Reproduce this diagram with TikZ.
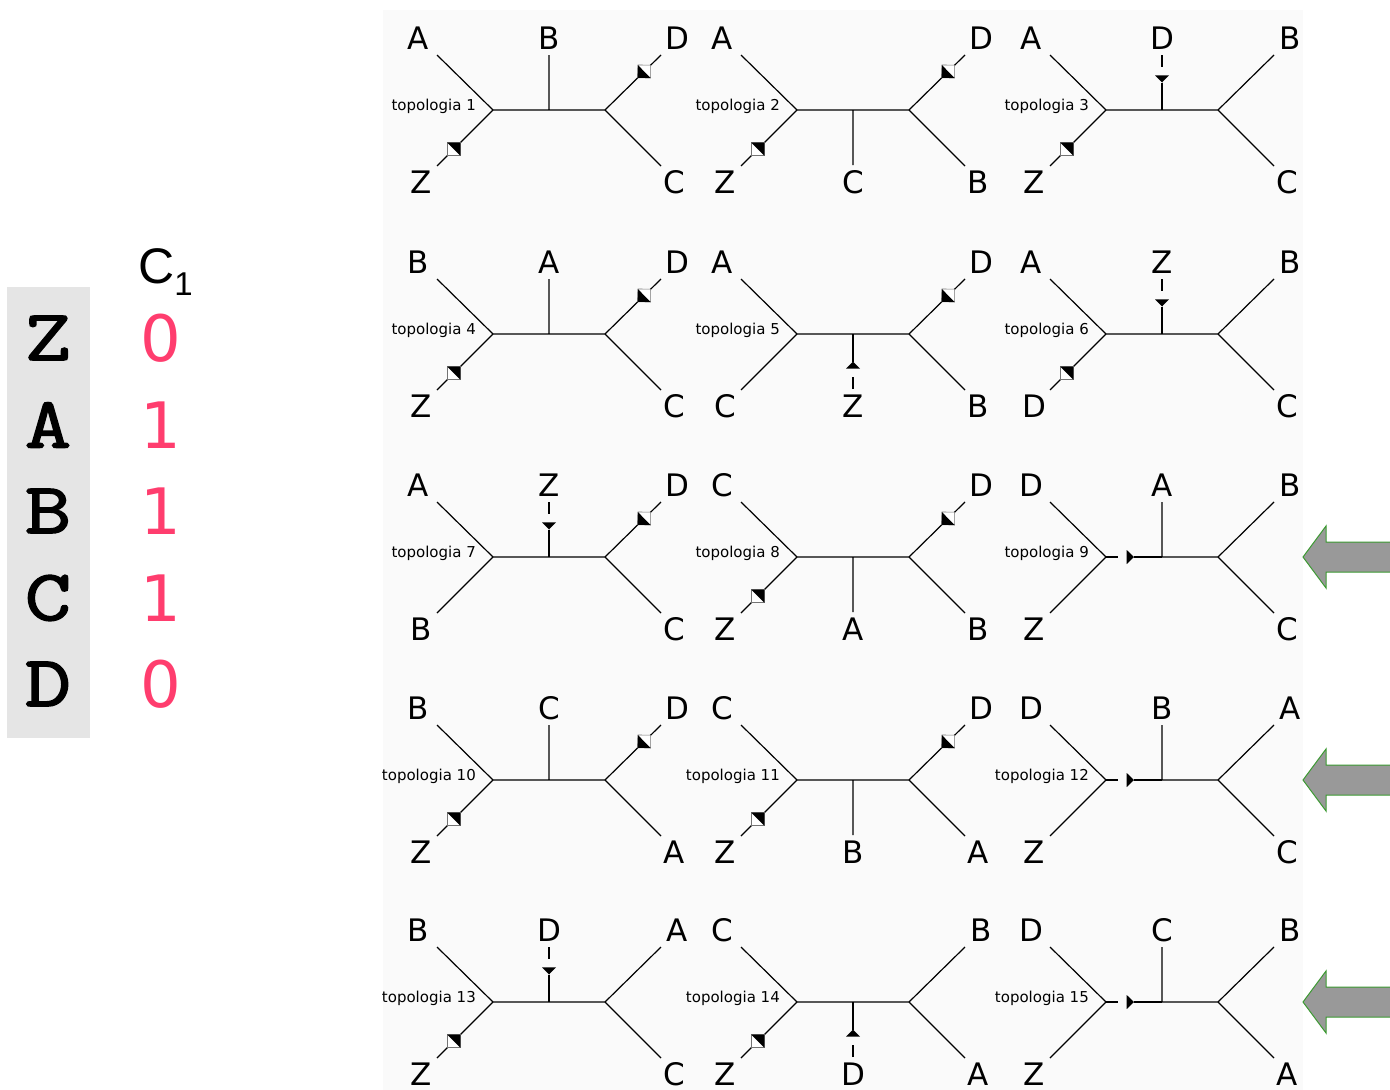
\documentclass[tikz,border=0pt]{standalone}
\usepackage{fontspec}
\setmainfont{DejaVu Sans}
\newfontfamily\tabfont{Latin Modern Mono}[FakeBold=2.2,FakeStretch=1.25]
\newfontfamily\hdfont{Liberation Sans}
\usetikzlibrary{calc}

\definecolor{digred}{HTML}{FF3D6E}
\definecolor{tabgray}{HTML}{E5E5E5}
\definecolor{treebg}{HTML}{FAFAFA}
\definecolor{arrgray}{HTML}{999999}
\definecolor{arrgreen}{HTML}{3C9A32}

% one unrooted topology: name, centre, number, leaves tl tr bl br, middle leaf, -1 up / 1 down
\newcommand{\topo}[9]{%
\begin{scope}[shift={(#2)}]
\coordinate (#1m) at (0,0);
\coordinate (#1l) at (-56,0);
\coordinate (#1r) at (56,0);
\coordinate (#1tl) at (-112,-55);
\coordinate (#1tr) at (112,-55);
\coordinate (#1bl) at (-112,56);
\coordinate (#1br) at (112,56);
\coordinate (#1e) at (0,#9*55);
\node[leaf] (#1tlx) at (-131,-72) {#4};
\node[leaf] (#1trx) at (128,-72) {#5};
\node[leaf] (#1blx) at (-128,72) {#6};
\node[leaf] (#1brx) at (125,72) {#7};
\node[leaf] (#1ex) at (0,#9*72) {#8};
\node[toplab] (#1n) at (-73,0) {topologia #3};
\end{scope}}

% broken branch, square mark (inner node, leaf end)
\newcommand{\brsq}[2]{%
\coordinate (sqa) at ($(#1)!0.584!(#2)$);
\coordinate (sqb) at ($(#1)!0.816!(#2)$);
\coordinate (sqc) at ($(#1)!0.7!(#2)$);
\filldraw[sqbox] (sqa) -- ($(sqc)!1!90:(sqa)$) -- (sqb) -- ($(sqc)!1!-90:(sqa)$) -- cycle;
\fill (sqa) -- ($(sqc)!1!90:(sqa)$) -- ($(sqc)!1!-90:(sqa)$) -- cycle;}

% broken branch, triangle mark (far end, near end)
\newcommand{\brtri}[2]{%
\draw[br] (#1) -- ($(#1)!0.22!(#2)$);
\coordinate (trb) at ($(#1)!0.37!(#2)$);
\fill ($(trb)!7pt!90:(#2)$) -- ($(#1)!0.5!(#2)$) -- ($(trb)!7pt!-90:(#2)$) -- cycle;
\draw[br] ($(#1)!0.5!(#2)$) -- (#2);}

\begin{document}
\begin{tikzpicture}[x=1pt,y=-1pt,
  br/.style={line width=1.2pt},
  sqbox/.style={fill=white,draw=black!55,line width=0.6pt},
  leaf/.style={font=\fontsize{31}{31}\selectfont,inner sep=0pt},
  toplab/.style={font=\fontsize{15}{15}\selectfont,anchor=base east,inner sep=0pt},
  tabl/.style={font=\tabfont\fontsize{72}{72}\selectfont,inner sep=0pt},
  dig/.style={font=\fontsize{64}{64}\selectfont,text=digred,inner sep=0pt},
  arrfill/.style={fill=arrgray},
  arrline/.style={draw=arrgreen,line width=1pt,line join=miter}]
\useasboundingbox (0,0) rectangle (1390,1090);
\fill[treebg] (383,10) rectangle (1303,1090);

% character table
\fill[tabgray] (7,287) rectangle (90,738);
\node[anchor=base west,inner sep=0pt,font=\hdfont\fontsize{50}{50}\selectfont] (hd) at (138,283) {C\raisebox{-12pt}{\fontsize{33}{33}\selectfont 1}};
\node[tabl] (tz) at (48,338) {Z};
\node[tabl] (ta) at (48,425) {A};
\node[tabl] (tb) at (48,511) {B};
\node[tabl] (tc) at (48,598) {C};
\node[tabl] (td) at (48,684) {D};
\node[dig] (vz) at (161,338) {0};
\node[dig] (va) at (161,425) {1};
\node[dig] (vb) at (161,511) {1};
\node[dig] (vc) at (161,598) {1};
\node[dig] (vd) at (161,684) {0};

% row 1
\topo{t1}{549,110}{1}{A}{D}{Z}{C}{B}{-1}
\draw[br] (t1tl) -- (t1l) -- (t1bl) (t1tr) -- (t1r) -- (t1br) (t1l) -- (t1r) (t1m) -- (t1e);
\brsq{t1r}{t1tr} \brsq{t1l}{t1bl}
\topo{t2}{853,110}{2}{A}{D}{Z}{B}{C}{1}
\draw[br] (t2tl) -- (t2l) -- (t2bl) (t2tr) -- (t2r) -- (t2br) (t2l) -- (t2r) (t2m) -- (t2e);
\brsq{t2r}{t2tr} \brsq{t2l}{t2bl}
\topo{t3}{1162,110}{3}{A}{B}{Z}{C}{D}{-1}
\draw[br] (t3tl) -- (t3l) -- (t3bl) (t3tr) -- (t3r) -- (t3br) (t3l) -- (t3r);
\brsq{t3l}{t3bl} \brtri{t3e}{t3m}

% row 2
\topo{t4}{549,334}{4}{B}{D}{Z}{C}{A}{-1}
\draw[br] (t4tl) -- (t4l) -- (t4bl) (t4tr) -- (t4r) -- (t4br) (t4l) -- (t4r) (t4m) -- (t4e);
\brsq{t4r}{t4tr} \brsq{t4l}{t4bl}
\topo{t5}{853,334}{5}{A}{D}{C}{B}{Z}{1}
\draw[br] (t5tl) -- (t5l) -- (t5bl) (t5tr) -- (t5r) -- (t5br) (t5l) -- (t5r);
\brsq{t5r}{t5tr} \brtri{t5e}{t5m}
\topo{t6}{1162,334}{6}{A}{B}{D}{C}{Z}{-1}
\draw[br] (t6tl) -- (t6l) -- (t6bl) (t6tr) -- (t6r) -- (t6br) (t6l) -- (t6r);
\brsq{t6l}{t6bl} \brtri{t6e}{t6m}

% row 3
\topo{t7}{549,557}{7}{A}{D}{B}{C}{Z}{-1}
\draw[br] (t7tl) -- (t7l) -- (t7bl) (t7tr) -- (t7r) -- (t7br) (t7l) -- (t7r);
\brsq{t7r}{t7tr} \brtri{t7e}{t7m}
\topo{t8}{853,557}{8}{C}{D}{Z}{B}{A}{1}
\draw[br] (t8tl) -- (t8l) -- (t8bl) (t8tr) -- (t8r) -- (t8br) (t8l) -- (t8r) (t8m) -- (t8e);
\brsq{t8r}{t8tr} \brsq{t8l}{t8bl}
\topo{t9}{1162,557}{9}{D}{B}{Z}{C}{A}{-1}
\draw[br] (t9tl) -- (t9l) -- (t9bl) (t9tr) -- (t9r) -- (t9br) (t9m) -- (t9r) (t9m) -- (t9e);
\brtri{t9l}{t9m}

% row 4
\topo{t10}{549,780}{10}{B}{D}{Z}{A}{C}{-1}
\draw[br] (t10tl) -- (t10l) -- (t10bl) (t10tr) -- (t10r) -- (t10br) (t10l) -- (t10r) (t10m) -- (t10e);
\brsq{t10r}{t10tr} \brsq{t10l}{t10bl}
\topo{t11}{853,780}{11}{C}{D}{Z}{A}{B}{1}
\draw[br] (t11tl) -- (t11l) -- (t11bl) (t11tr) -- (t11r) -- (t11br) (t11l) -- (t11r) (t11m) -- (t11e);
\brsq{t11r}{t11tr} \brsq{t11l}{t11bl}
\topo{t12}{1162,780}{12}{D}{A}{Z}{C}{B}{-1}
\draw[br] (t12tl) -- (t12l) -- (t12bl) (t12tr) -- (t12r) -- (t12br) (t12m) -- (t12r) (t12m) -- (t12e);
\brtri{t12l}{t12m}

% row 5
\topo{t13}{549,1002}{13}{B}{A}{Z}{C}{D}{-1}
\draw[br] (t13tl) -- (t13l) -- (t13bl) (t13tr) -- (t13r) -- (t13br) (t13l) -- (t13r);
\brsq{t13l}{t13bl} \brtri{t13e}{t13m}
\topo{t14}{853,1002}{14}{C}{B}{Z}{A}{D}{1}
\draw[br] (t14tl) -- (t14l) -- (t14bl) (t14tr) -- (t14r) -- (t14br) (t14l) -- (t14r);
\brsq{t14l}{t14bl} \brtri{t14e}{t14m}
\topo{t15}{1162,1002}{15}{D}{B}{Z}{A}{C}{-1}
\draw[br] (t15tl) -- (t15l) -- (t15bl) (t15tr) -- (t15r) -- (t15br) (t15m) -- (t15r) (t15m) -- (t15e);
\brtri{t15l}{t15m}

% pointers to the matching topologies
\foreach \yy in {557,780,1002} {
  \fill[arrfill] (1303,\yy) -- (1326,\yy-31) -- (1326,\yy-15) -- (1392,\yy-15) -- (1392,\yy+15) -- (1326,\yy+15) -- (1326,\yy+31) -- cycle;
  \draw[arrline] (1392,\yy-15) -- (1326,\yy-15) -- (1326,\yy-31) -- (1303,\yy) -- (1326,\yy+31) -- (1326,\yy+15) -- (1392,\yy+15);
}
\end{tikzpicture}
\end{document}
